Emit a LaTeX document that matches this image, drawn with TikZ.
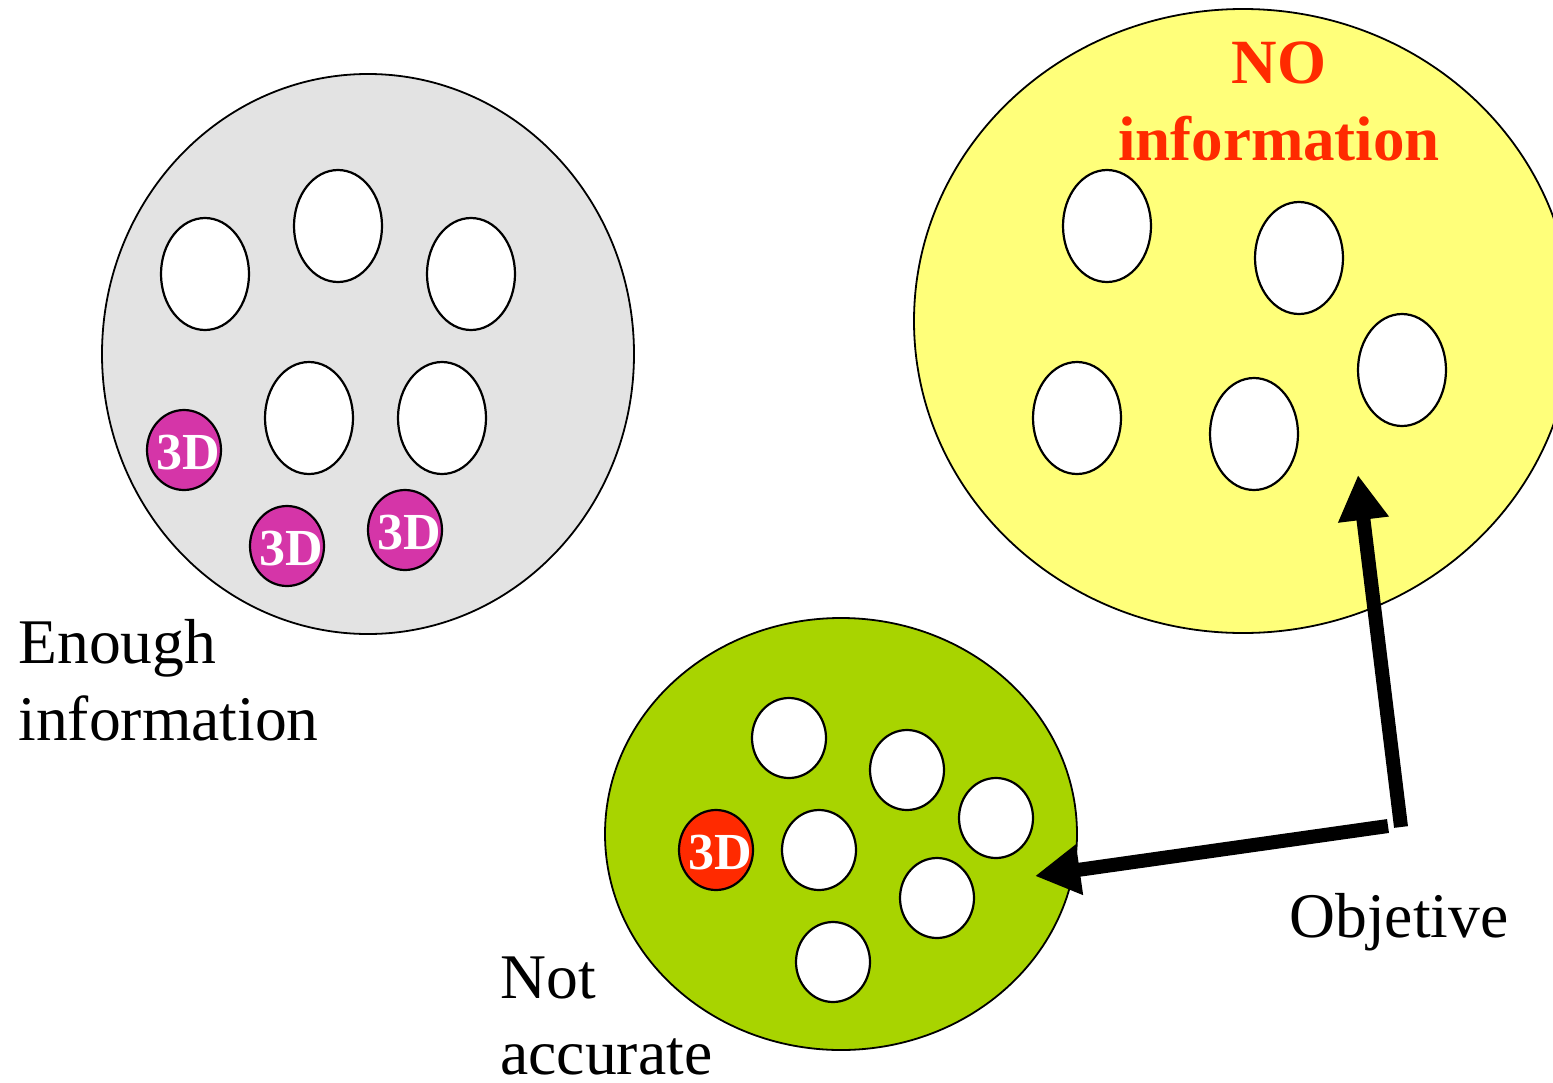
\documentclass[tikz,border=0pt]{standalone}
\usepackage{fontspec}
\setmainfont{Liberation Serif}
\usetikzlibrary{shapes.geometric,arrows.meta}
\definecolor{poolgray}{HTML}{E3E3E3}
\definecolor{poolyellow}{HTML}{FFFF7A}
\definecolor{poolgreen}{HTML}{A8D400}
\definecolor{tagmagenta}{HTML}{D535A8}
\definecolor{tagred}{HTML}{FF2A00}
\definecolor{headred}{HTML}{FF2A00}

\begin{document}
\begin{tikzpicture}[x=0.5pt,y=-0.5pt,
  pool/.style={ellipse,draw=black,line width=0.9pt,inner sep=0pt},
  slot/.style={ellipse,draw=black,fill=white,line width=1.1pt,
    minimum width=44pt,minimum height=56pt,inner sep=0pt},
  dot/.style={ellipse,draw=black,line width=1.1pt,
    minimum width=37pt,minimum height=40pt,inner sep=0pt},
  tagtext/.style={text=white,font=\fontsize{26}{26}\selectfont\bfseries,
    inner sep=0pt,xshift=2pt,yshift=-1.5pt},
  tag/.style={dot,fill=tagmagenta,label={[tagtext]center:3D}},
  redtag/.style={dot,fill=tagred,label={[tagtext]center:3D}},
  caption/.style={font=\fontsize{31.8}{31.8}\selectfont,inner sep=0pt,anchor=base west},
  head/.style={font=\fontsize{31.5}{31.5}\selectfont\bfseries,text=headred,
    inner sep=0pt,anchor=base},
  bigarrow/.style={line width=7pt,-{Triangle[length=22.5pt,width=24pt]}}
]
\useasboundingbox (0,0) rectangle (1553,1082);
\clip (0,0) rectangle (1553,1082);

% the three pools
\node[pool,fill=poolgray,minimum width=266pt,minimum height=280pt] (gray) at (368,354) {};
\node[pool,fill=poolyellow,minimum width=329pt,minimum height=312pt] (yellow) at (1243,321) {};
\node[pool,fill=poolgreen,minimum width=236pt,minimum height=216pt] (green) at (841,834) {};

% gray pool: slots and 3D tags
\node[slot] (g1) at (205,274) {};
\node[slot] (g2) at (338,226) {};
\node[slot] (g3) at (471,274) {};
\node[slot] (g4) at (309,418) {};
\node[slot] (g5) at (442,418) {};
\node[tag] (t1) at (184,450) {};
\node[tag] (t2) at (287,546) {};
\node[tag] (t3) at (405,530) {};

% yellow pool: slots and heading
\node[slot] (y1) at (1107,226) {};
\node[slot] (y2) at (1299,258) {};
\node[slot] (y3) at (1402,370) {};
\node[slot] (y4) at (1077,418) {};
\node[slot] (y5) at (1254,434) {};
\node[head] (no1) at (1279,83) {NO};
\node[head] (no2) at (1279,160) {information};

% green pool: small slots and one red 3D tag
\node[dot,fill=white] (s1) at (789,738) {};
\node[dot,fill=white] (s2) at (907,770) {};
\node[dot,fill=white] (s3) at (996,818) {};
\node[dot,fill=white] (s4) at (819,850) {};
\node[dot,fill=white] (s5) at (937,898) {};
\node[dot,fill=white] (s6) at (833,962) {};
\node[redtag] (r1) at (716,850) {};

% captions
\node[caption] (enough1) at (18,663) {Enough};
\node[caption] (enough2) at (18,740) {information};
\node[caption] (not1) at (500,998) {Not};
\node[caption] (not2) at (500,1074) {accurate};
\node[caption] (obj) at (1289,937) {Objetive};

% arrows
\coordinate (vstart) at (1401,827);
\coordinate (vend) at (1358,475);
\coordinate (hstart) at (1388,826);
\coordinate (hend) at (1035,876);
\draw[bigarrow] (vstart) -- (vend);
\draw[bigarrow] (hstart) -- (hend);
\end{tikzpicture}
\end{document}
